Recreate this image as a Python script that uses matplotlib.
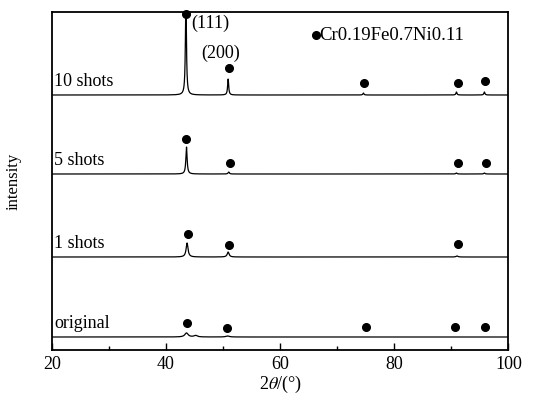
import numpy as np
import matplotlib.pyplot as plt
from matplotlib.ticker import MultipleLocator

plt.rcParams['font.family'] = ['Liberation Serif', 'DejaVu Serif']
plt.rcParams['mathtext.fontset'] = 'stix'

# sample names, bottom to top
samples = ['original', '1 shots', '5 shots', '10 shots']

# peak centres (2theta, deg) and heights (arb. units) per sample
peaks_orig = [43.6, 45.2, 50.8]
heights_orig = [4, 1.5, 1]
peaks_1 = [43.7, 50.9, 91.0]
heights_1 = [14, 5, 1]
peaks_5 = [43.6, 51.0, 90.9, 95.8]
heights_5 = [27, 2, 1, 1]
peaks_10 = [43.5, 50.9, 74.6, 90.9, 95.8]
heights_10 = [95, 16, 2, 3, 3]

# phase markers (position, height above trace baseline)
dots_orig_x = [43.7, 50.7, 75.0, 90.6, 95.9]
dots_orig_y = [14, 9, 10, 10, 10]
dots_1_x = [43.9, 51.1, 91.1]
dots_1_y = [23, 12, 13]
dots_5_x = [43.6, 51.2, 91.1, 96.0]
dots_5_y = [35, 11, 11, 11]
dots_10_x = [43.5, 51.0, 74.7, 91.1, 95.9]
dots_10_y = [81, 27, 12, 12, 14]

peaks = [peaks_orig, peaks_1, peaks_5, peaks_10]
heights = [heights_orig, heights_1, heights_5, heights_10]
dots_x = [dots_orig_x, dots_1_x, dots_5_x, dots_10_x]
dots_y = [dots_orig_y, dots_1_y, dots_5_y, dots_10_y]

offsets = [13, 93, 176, 255]
widths = [0.35, 0.2, 0.13, 0.11]


def profile(x, centres, amps, w):
    y = np.zeros_like(x)
    for c, a in zip(centres, amps):
        y += a / (1 + ((x - c) / w) ** 2)
    return y


fig = plt.figure(figsize=(5.34, 4.0), dpi=100)
ax = fig.add_axes([0.097, 0.125, 0.855, 0.845])

x = np.linspace(20, 100, 4000)
for i, name in enumerate(samples):
    y = offsets[i] + profile(x, peaks[i], heights[i], widths[i])
    ax.plot(x, y, color='black', lw=0.9)
    ax.plot(dots_x[i], np.array(dots_y[i]) + offsets[i], 'o', color='black',
            ms=5.5, clip_on=False)
    ax.text(20.4, offsets[i] + 5, name, fontsize=13, ha='left', va='bottom')

ax.text(44.5, 327, '(111)', fontsize=13, ha='left', va='center')
ax.text(46.2, 297, '(200)', fontsize=13, ha='left', va='center')
ax.plot([66.3], [315], 'o', color='black', ms=5.5)
ax.text(66.9, 315, 'Cr0.19Fe0.7Ni0.11', fontsize=13.5, ha='left', va='center')

ax.set_xlim(20, 100)
ax.set_ylim(0, 338)
ax.set_yticks([])
ax.xaxis.set_major_locator(MultipleLocator(20))
ax.xaxis.set_minor_locator(MultipleLocator(10))
ax.tick_params(axis='x', which='both', direction='in', top=False,
               labelsize=13, pad=4)
ax.tick_params(axis='x', which='major', length=5, width=1)
ax.tick_params(axis='x', which='minor', length=3, width=1)
for s in ax.spines.values():
    s.set_linewidth(1.3)

ax.set_xlabel(r'2$\theta$/(°)', fontsize=13, labelpad=1)
ax.set_ylabel('intensity', fontsize=12, labelpad=22)

fig.savefig('out.png', dpi=100)
